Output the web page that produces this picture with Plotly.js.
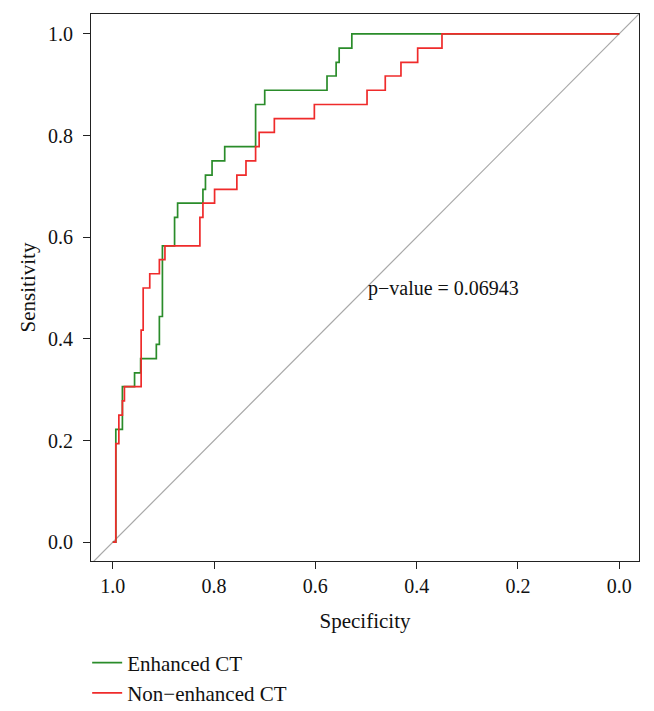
<!DOCTYPE html>
<html>
<head>
<meta charset="utf-8">
<script src="https://cdn.plot.ly/plotly-3.0.1.min.js"></script>
<style>html,body{margin:0;padding:0;background:#fff;}#chart{width:654px;height:711px;}</style>
</head>
<body>
<div id="chart"></div>
<script>
// Enhanced CT ROC step vertices (specificity, sensitivity)
var enhancedSpec = [1, 0.994, 0.981, 0.957, 0.945, 0.914, 0.908, 0.902, 0.878, 0.872, 0.822, 0.817, 0.804, 0.779, 0.718, 0.700, 0.577, 0.559, 0.553, 0.528, 0];
var enhancedSens = [0, 0.222, 0.306, 0.333, 0.361, 0.389, 0.444, 0.583, 0.639, 0.667, 0.694, 0.722, 0.750, 0.778, 0.861, 0.889, 0.917, 0.944, 0.972, 1, 1];
// Non-enhanced CT ROC step vertices
var nonEnhSpec = [1, 0.994, 0.988, 0.981, 0.977, 0.944, 0.940, 0.927, 0.908, 0.897, 0.828, 0.822, 0.799, 0.755, 0.737, 0.718, 0.711, 0.681, 0.602, 0.498, 0.462, 0.431, 0.398, 0.350, 0];
var nonEnhSens = [0, 0.194, 0.250, 0.278, 0.306, 0.417, 0.500, 0.528, 0.556, 0.583, 0.639, 0.667, 0.694, 0.722, 0.750, 0.778, 0.806, 0.833, 0.861, 0.889, 0.917, 0.944, 0.972, 1, 1];
// reference diagonal
var diagX = [1.2, -0.2];
var diagY = [-0.2, 1.2];
var tickVals = [1.0, 0.8, 0.6, 0.4, 0.2, 0.0];
var tickText = ["1.0", "0.8", "0.6", "0.4", "0.2", "0.0"];
var seriesNames = ["Enhanced CT", "Non\u2212enhanced CT"];
var pLabel = "p\u2212value = 0.06943";

var serif = "Liberation Serif, Times New Roman, serif";
var traces = [
  {x: diagX, y: diagY, mode: "lines", line: {color: "#a8a8a8", width: 1.2}, showlegend: false, hoverinfo: "skip"},
  {x: enhancedSpec, y: enhancedSens, mode: "lines", name: seriesNames[0], line: {color: "#2a8c2a", width: 1.7, shape: "hv"}},
  {x: nonEnhSpec, y: nonEnhSens, mode: "lines", name: seriesNames[1], line: {color: "#ef2b2b", width: 1.7, shape: "hv"}}
];
var axisCommon = {
  showgrid: false, zeroline: false, showline: true, mirror: true, automargin: false,
  linecolor: "#222", linewidth: 1, ticks: "outside", ticklen: 7, tickcolor: "#222",
  tickfont: {family: serif, size: 20, color: "#111"},
  tickmode: "array", tickvals: tickVals, ticktext: tickText
};
var layout = {
  width: 654, height: 711,
  margin: {l: 91, r: 15, t: 14, b: 150, autoexpand: false},
  paper_bgcolor: "#fff", plot_bgcolor: "#fff",
  font: {family: serif, color: "#111"},
  xaxis: Object.assign({}, axisCommon, {range: [1.043, -0.039], title: {text: "Specificity", font: {family: serif, size: 21, color: "#111"}, standoff: 17}}),
  yaxis: Object.assign({}, axisCommon, {range: [-0.037, 1.039], ticklabelstandoff: 6, title: {text: "Sensitivity", font: {family: serif, size: 21, color: "#111"}, standoff: 6}}),
  showlegend: true,
  legend: {x: -0.007, xanchor: "left", yref: "container", y: 0.0965, yanchor: "top", orientation: "v", font: {family: serif, size: 21, color: "#111"}, bgcolor: "rgba(0,0,0,0)", tracegroupgap: 0, itemwidth: 30},
  annotations: [{x: 0.5, y: 0.5, xref: "x", yref: "y", text: pLabel, showarrow: false, xanchor: "left", yanchor: "middle", font: {family: serif, size: 20, color: "#111"}}]
};
Plotly.newPlot("chart", traces, layout, {staticPlot: true, displayModeBar: false});
</script>
</body>
</html>
